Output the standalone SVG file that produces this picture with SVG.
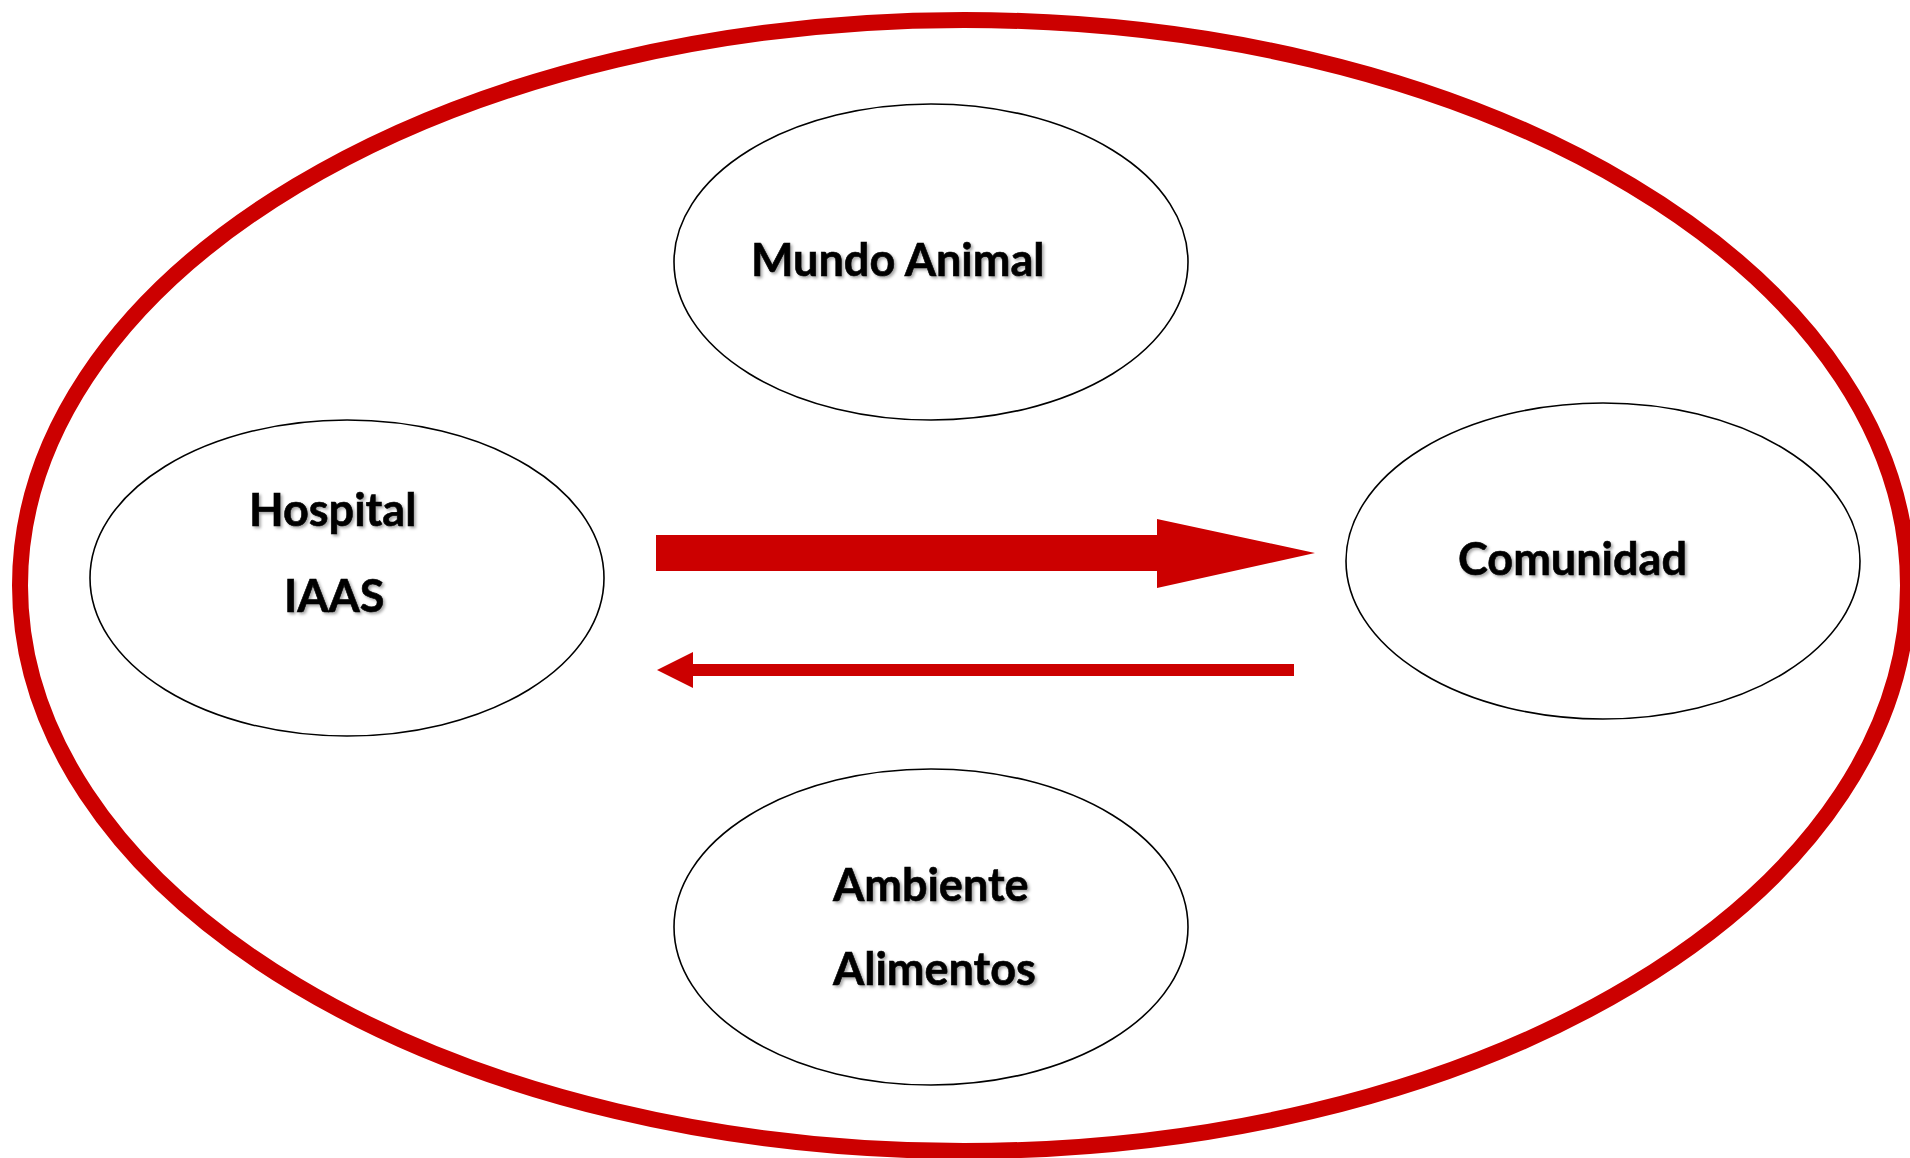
<svg xmlns="http://www.w3.org/2000/svg" width="1910" height="1158" viewBox="0 0 1910 1158">
<defs>
<filter id="sh" x="-10%" y="-30%" width="130%" height="170%">
<feDropShadow dx="2" dy="2" stdDeviation="1.5" flood-color="#000" flood-opacity="0.35"/>
</filter>
<style>
.node{fill:#fff;stroke:#000;stroke-width:1.6}
.lbl{font-family:Lato,"Open Sans","Liberation Sans",sans-serif;font-weight:bold;font-size:45px;fill:#000;stroke:#000;stroke-width:0.6;filter:url(#sh)}
.red{fill:#cc0000}
</style>
</defs>
<rect width="1910" height="1158" fill="#fff"/>
<g id="outer">
<ellipse cx="964" cy="585.5" rx="944" ry="565.5" fill="none" stroke="#cc0000" stroke-width="16"/>
</g>
<g id="mundo-animal">
<ellipse class="node" cx="931" cy="262" rx="257" ry="158"/>
<text class="lbl" x="751" y="276">Mundo Animal</text>
</g>
<g id="hospital">
<ellipse class="node" cx="347" cy="578" rx="257" ry="158"/>
<text class="lbl" x="249" y="526">Hospital</text>
<text class="lbl" x="284" y="612">IAAS</text>
</g>
<g id="comunidad">
<ellipse class="node" cx="1603" cy="561" rx="257" ry="158"/>
<text class="lbl" x="1458" y="575">Comunidad</text>
</g>
<g id="ambiente">
<ellipse class="node" cx="931" cy="927" rx="257" ry="158"/>
<text class="lbl" x="833" y="901">Ambiente</text>
<text class="lbl" x="833" y="985">Alimentos</text>
</g>
<g id="connectors">
<polygon class="red" points="656,535 1157,535 1157,519 1315,553 1157,588 1157,571 656,571"/>
<polygon class="red" points="1294,664 693,664 693,652 657,670 693,688 693,676 1294,676"/>
</g>
</svg>
